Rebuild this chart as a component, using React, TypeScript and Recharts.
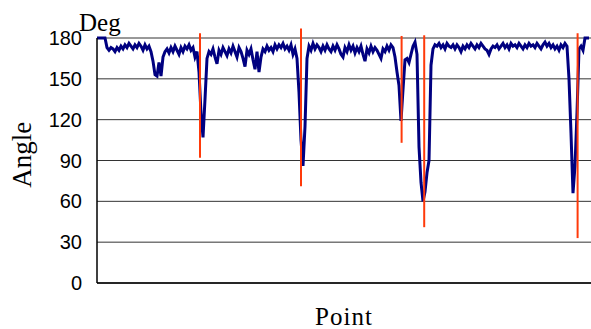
import React from "react";
import { LineChart, Line, XAxis, YAxis, CartesianGrid, ReferenceLine } from "recharts";

// angle per sample point (deg)
const angles = [
  180, 180, 180, 180, 180, 173, 171, 173, 172, 170,
  173, 171, 174, 172, 175, 173, 176, 174, 172, 175,
  173, 176, 174, 171, 175, 172, 174, 170, 163, 153,
  152, 162, 152, 166, 170, 172, 169, 173, 170, 174,
  171, 168, 173, 170, 174, 172, 175, 171, 173, 166,
  170, 155, 125, 107, 135, 165, 170, 168, 172, 166,
  161, 171, 168, 173, 170, 167, 172, 169, 174, 170,
  166, 173, 170, 165, 159, 171, 168, 172, 164, 157,
  170, 155, 166, 172, 170, 174, 171, 173, 170, 175,
  172, 175, 173, 176, 172, 174, 171, 175, 168, 172,
  165, 140, 105, 86, 115, 165, 174, 171, 176, 172,
  175, 173, 170, 174, 171, 175, 172, 170, 174, 171,
  175, 172, 168, 166, 173, 170, 175, 171, 174, 169,
  173, 170, 174, 168, 163, 172, 169, 174, 170, 173,
  171, 168, 165, 172, 170, 174, 171, 175, 173, 166,
  155, 145, 119, 142, 164, 165, 162, 168, 174, 177,
  168, 100, 74, 60, 67, 81, 90, 160, 172, 175,
  174, 176, 173, 175, 172, 176, 174, 173, 175, 172,
  175, 173, 170, 174, 172, 175, 173, 176, 174, 172,
  175, 173, 176, 174, 172, 171, 168, 172, 174, 173,
  175, 172, 174, 176, 173, 175, 172, 176, 174, 175,
  173, 176, 174, 172, 175, 173, 176, 174, 175, 173,
  176, 174, 172, 175, 177, 174, 176, 173, 175, 172,
  174, 171, 175, 173, 176, 174, 150, 110, 66, 86,
  125, 172, 174, 171, 180, 180, 180,
];

// vertical markers (orange)
const markerX = [51.5, 102, 152.3, 163.6, 240.3];
const markerTop = [183.5, 187, 181.5, 182, 183.5];
const markerBottom = [92, 71, 103, 41, 33];

const yTicks = [0, 30, 60, 90, 120, 150, 180];

const data = angles.map((v, i) => ({ point: i, angle: v }));

export default function App() {
  return (
    <div style={{ position: "absolute", left: 0, top: 0, width: 591, height: 329, background: "#fff" }}>
      <LineChart width={591} height={329} data={data} margin={{ top: 38, right: 0, bottom: 45, left: 0 }}>
        <CartesianGrid vertical={false} stroke="#333" strokeDasharray="" />
        <XAxis
          dataKey="point"
          type="number"
          domain={[0, 247]}
          tick={false}
          tickLine={false}
          height={1}
          axisLine={{ stroke: "#000", strokeWidth: 1.5 }}
        />
        <YAxis
          type="number"
          domain={[0, 180]}
          ticks={yTicks}
          width={97}
          tickLine={false}
          tickSize={13}
          tickMargin={2}
          axisLine={{ stroke: "#000", strokeWidth: 1.5 }}
          tick={{ fill: "#000", fontSize: 20, fontFamily: "Liberation Sans, Arial, sans-serif" }}
        />
        <Line
          type="linear"
          dataKey="angle"
          stroke="#000080"
          strokeWidth={3}
          dot={false}
          isAnimationActive={false}
        />
        {markerX.map((x, i) => (
          <ReferenceLine
            key={i}
            segment={[{ x, y: markerBottom[i] }, { x, y: markerTop[i] }]}
            stroke="#ff3a0a"
            strokeWidth={2}
            ifOverflow="visible"
          />
        ))}
      </LineChart>
      <svg width={591} height={329} style={{ position: "absolute", left: 0, top: 0, pointerEvents: "none" }}>
        <text x={79} y={30.5} fontSize={25} fontFamily="Liberation Serif, Times New Roman, serif" fill="#000">
          Deg
        </text>
        <text
          x={31.5}
          y={154.7}
          fontSize={27}
          fontFamily="Liberation Serif, Times New Roman, serif"
          textAnchor="middle"
          fill="#000"
          transform="rotate(-90 31.5 154.7)"
        >
          Angle
        </text>
        <text
          x={344}
          y={325}
          fontSize={25}
          letterSpacing={1}
          fontFamily="Liberation Serif, Times New Roman, serif"
          textAnchor="middle"
          fill="#000"
        >
          Point
        </text>
      </svg>
    </div>
  );
}
